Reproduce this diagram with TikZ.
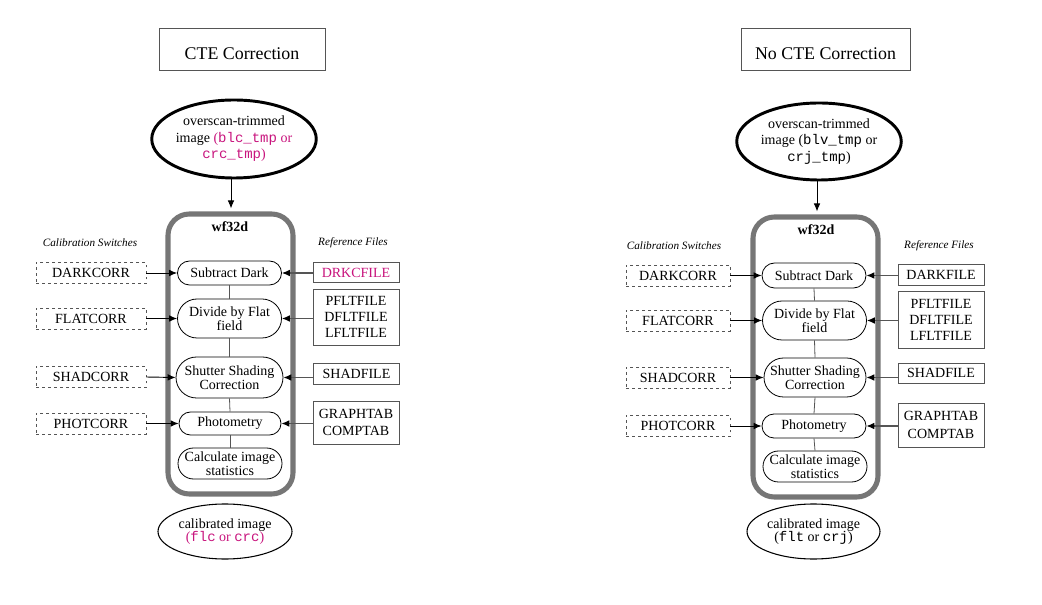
\documentclass[tikz,border=0pt]{standalone}
\usepackage{fontspec}
\setmainfont{Liberation Serif}
\setmonofont{Liberation Mono}
\usetikzlibrary{shapes.geometric,shapes.misc,arrows.meta}
\definecolor{mag}{RGB}{200,20,125}
\definecolor{boxgray}{RGB}{118,118,118}
\definecolor{linegray}{RGB}{85,85,85}
\begin{document}
\begin{tikzpicture}[x=0.75pt,y=-0.75pt,
  every node/.style={font=\fontsize{10.5}{12}\selectfont, inner sep=0pt, align=center},
  titlebox/.style={draw=linegray, line width=0.6pt, font=\fontsize{13.4}{15}\selectfont},
  topell/.style={ellipse, draw, line width=2.2pt, font=\fontsize{10.5}{12.4}\selectfont},
  botell/.style={ellipse, draw, line width=0.8pt, font=\fontsize{10.5}{10}\selectfont},
  wfbox/.style={draw=boxgray, line width=3.8pt, rounded corners=16pt},
  stepbox/.style={rounded rectangle, draw, line width=0.6pt, font=\fontsize{10.5}{9}\selectfont},
  switchbox/.style={draw=linegray, dash pattern=on 2pt off 2.5pt, line width=0.6pt},
  refbox/.style={draw=linegray, line width=0.7pt},
  headlabel/.style={font=\fontsize{8.4}{10}\selectfont\itshape},
  arr/.style={-{Latex[length=6pt,width=5pt]}, line width=0.7pt},
  refarr/.style={-{Latex[length=6pt,width=5pt,black]}, line width=0.8pt, draw=linegray},
  conn/.style={line width=0.6pt, draw=linegray}]
\useasboundingbox (0,0) rectangle (1042,605);

% ================= Left panel: CTE Correction =================
\node[titlebox, minimum width=124.5pt, minimum height=31.5pt] (titleL) at (242,49)
  {\raisebox{-4.5pt}[0.7em][0.2em]{CTE Correction}};
\node[topell, minimum width=106.5pt, minimum height=58.5pt] (topL) at (234,139)
  {overscan-trimmed\\image \textcolor{mag}{(\texttt{blc\_tmp} or}\\\textcolor{mag}{\texttt{crc\_tmp})}};
\node[wfbox, minimum width=93.75pt, minimum height=210pt] (wfL) at (230.5,354) {};
\node[font=\fontsize{10.5}{12}\selectfont\bfseries] (wfnameL) at (230,227) {wf32d};
\node[headlabel] (calL) at (90,243) {Calibration Switches};
\node[headlabel] (refhL) at (353,243) {Reference Files};

\node[stepbox, minimum width=78pt, minimum height=18pt] (sdL) at (229.5,273) {Subtract Dark};
\node[stepbox, minimum width=78pt, minimum height=29.25pt] (dfL) at (229.5,318.5) {Divide by Flat\\field};
\node[stepbox, minimum width=80.25pt, minimum height=30.75pt] (ssL) at (229.5,377.5) {Shutter Shading\\Correction};
\node[stepbox, minimum width=76.5pt, minimum height=17.25pt] (phL) at (230,423.5) {Photometry};
\node[stepbox, minimum width=78pt, minimum height=23.25pt] (csL) at (230,463.5) {Calculate image\\statistics};

\node[switchbox, minimum width=82.5pt, minimum height=15.75pt] (swdL) at (91,273) {DARKCORR};
\node[switchbox, minimum width=82.5pt, minimum height=15.75pt] (swfL) at (91,318.5) {FLATCORR};
\node[switchbox, minimum width=82.5pt, minimum height=15.75pt] (swsL) at (91,377) {SHADCORR};
\node[switchbox, minimum width=82.5pt, minimum height=15.75pt] (swpL) at (91,423.5) {PHOTCORR};

\node[refbox, minimum width=64.5pt, minimum height=15pt, text=mag] (rdL) at (356,272.5) {DRKCFILE};
\node[refbox, minimum width=64.5pt, minimum height=42pt, font=\fontsize{10.5}{12}\selectfont] (rfL) at (356,317) {PFLTFILE\\DFLTFILE\\LFLTFILE};
\node[refbox, minimum width=64.5pt, minimum height=15.75pt] (rsL) at (356.5,373.5) {SHADFILE};
\node[refbox, minimum width=64.5pt, minimum height=32.25pt, font=\fontsize{10.5}{13}\selectfont] (rpL) at (356,422.5) {GRAPHTAB\\COMPTAB};

\node[botell, minimum width=100.5pt, minimum height=41.25pt] (botL) at (225,531.5)
  {calibrated image\\\textcolor{mag}{(\texttt{flc} or \texttt{crc})}};

\draw[arr, draw=black] (topL.south -| 231,0) -- ([shift={(0.5,-3)}]wfL.north);
\draw[conn] (sdL.south) -- (dfL.north);
\draw[conn] (dfL.south) -- (ssL.north);
\draw[conn] (ssL.south) -- (phL.north);
\draw[conn] (phL.south) -- (csL.north);
\draw[arr] (swdL.east) -- (sdL.west);
\draw[arr] (swfL.east) -- (dfL.west);
\draw[arr] (swsL.east) -- (ssL.west);
\draw[arr] (swpL.east) -- (phL.west);
\draw[refarr] (rdL.west |- sdL.east) -- (sdL.east);
\draw[refarr] (rfL.west |- dfL.east) -- (dfL.east);
\draw[refarr] (rsL.west |- ssL.east) -- (ssL.east);
\draw[refarr] (rpL.west |- phL.east) -- (phL.east);

% ================= Right panel: No CTE Correction =================
\node[titlebox, minimum width=126.75pt, minimum height=31.5pt] (titleR) at (825.5,49)
  {\raisebox{-4.5pt}[0.7em][0.2em]{No CTE Correction}};
\node[topell, minimum width=106.5pt, minimum height=57.75pt] (topR) at (819,141.5)
  {overscan-trimmed\\image (\texttt{blv\_tmp} or\\\texttt{crj\_tmp})};
\node[wfbox, minimum width=93.75pt, minimum height=210pt] (wfR) at (815.5,357) {};
\node[font=\fontsize{10.5}{12}\selectfont\bfseries] (wfnameR) at (816,230) {wf32d};
\node[headlabel] (calR) at (674,246) {Calibration Switches};
\node[headlabel] (refhR) at (939,246) {Reference Files};

\node[stepbox, minimum width=78pt, minimum height=18.75pt] (sdR) at (814,275.5) {Subtract Dark};
\node[stepbox, minimum width=78pt, minimum height=29.25pt] (dfR) at (814.5,320.5) {Divide by Flat\\field};
\node[stepbox, minimum width=76.5pt, minimum height=29.25pt] (ssR) at (815,377.5) {Shutter Shading\\Correction};
\node[stepbox, minimum width=78pt, minimum height=18pt] (phR) at (814,426) {Photometry};
\node[stepbox, minimum width=78pt, minimum height=23.25pt] (csR) at (815,466.5) {Calculate image\\statistics};

\node[switchbox, minimum width=78pt, minimum height=15.75pt] (swdR) at (678,275.5) {DARKCORR};
\node[switchbox, minimum width=78pt, minimum height=15.75pt] (swfR) at (678,320.5) {FLATCORR};
\node[switchbox, minimum width=78pt, minimum height=15.75pt] (swsR) at (678,377.5) {SHADCORR};
\node[switchbox, minimum width=78pt, minimum height=15.75pt] (swpR) at (678,426) {PHOTCORR};

\node[refbox, minimum width=64.5pt, minimum height=15.75pt] (rdR) at (941,274.5) {DARKFILE};
\node[refbox, minimum width=64.5pt, minimum height=42.75pt, font=\fontsize{10.5}{12}\selectfont] (rfR) at (941,319.5) {PFLTFILE\\DFLTFILE\\LFLTFILE};
\node[refbox, minimum width=64.5pt, minimum height=15pt] (rsR) at (941,373) {SHADFILE};
\node[refbox, minimum width=64.5pt, minimum height=33pt, font=\fontsize{10.5}{13}\selectfont] (rpR) at (941,425) {GRAPHTAB\\COMPTAB};

\node[botell, minimum width=99.75pt, minimum height=41.25pt] (botR) at (813.5,531.5)
  {calibrated image\\(\texttt{flt} or \texttt{crj})};

\draw[arr, draw=black] (topR.south -| 817,0) -- ([shift={(1.5,-3)}]wfR.north);
\draw[conn] (sdR.south) -- (dfR.north);
\draw[conn] (dfR.south) -- (ssR.north);
\draw[conn] (ssR.south) -- (phR.north);
\draw[conn] (phR.south) -- (csR.north);
\draw[arr] (swdR.east) -- (sdR.west);
\draw[arr] (swfR.east) -- (dfR.west);
\draw[arr] (swsR.east) -- (ssR.west);
\draw[arr] (swpR.east) -- (phR.west);
\draw[refarr] (rdR.west |- sdR.east) -- (sdR.east);
\draw[refarr] (rfR.west |- dfR.east) -- (dfR.east);
\draw[refarr] (rsR.west |- ssR.east) -- (ssR.east);
\draw[refarr] (rpR.west |- phR.east) -- (phR.east);
\end{tikzpicture}
\end{document}
